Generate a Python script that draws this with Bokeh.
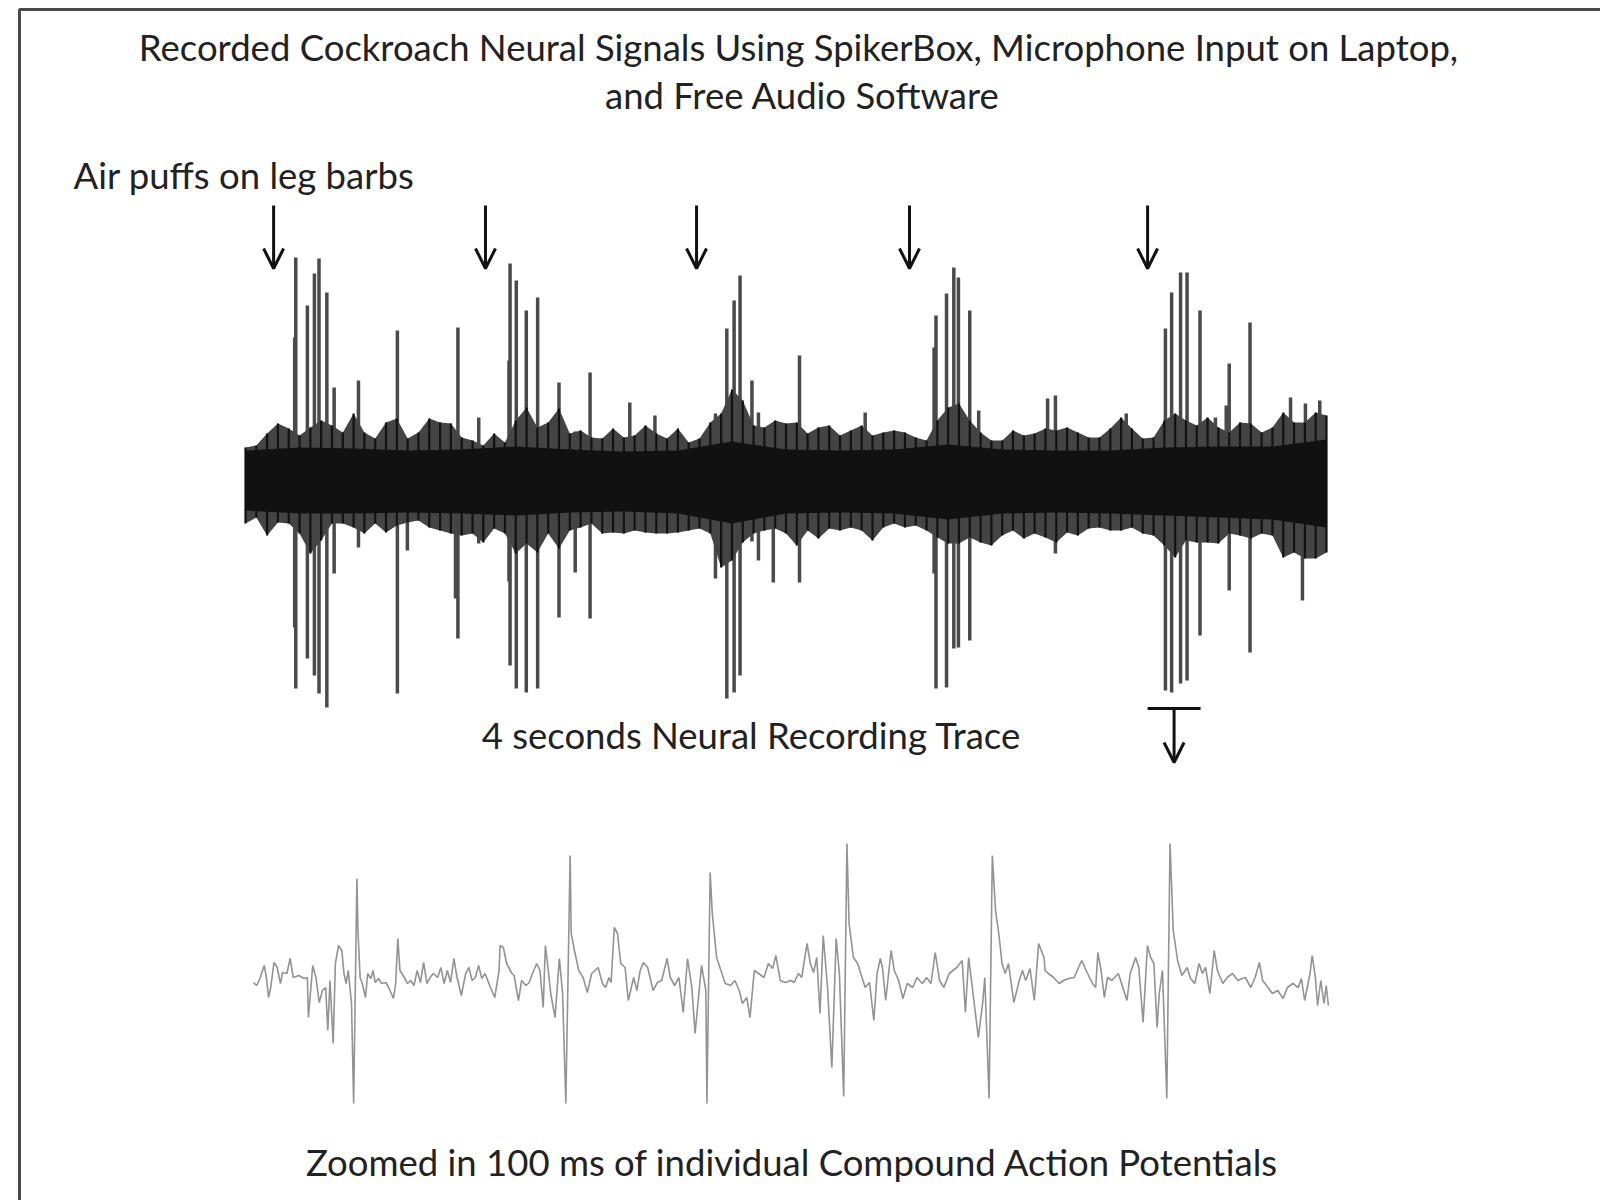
from bokeh.plotting import figure
from bokeh.models import Range1d, ColumnDataSource, Arrow, OpenHead
from bokeh.core.properties import value
from bokeh.embed import file_html
from bokeh.resources import INLINE

# ---------------- texts ----------------
title_lines = ["Recorded Cockroach Neural Signals Using SpikerBox, Microphone Input on Laptop,",
               "and Free Audio Software"]
puff_label = "Air puffs on leg barbs"
trace_label = "4 seconds Neural Recording Trace"
zoom_label = "Zoomed in 100 ms of individual Compound Action Potentials"

# ---------------- 4 s recording (time in ms, amplitude in a.u.) ----------------
puff_times_ms = [104, 888, 1669, 2457, 3338]
zoom_window_ms = [3338, 3534]

spike_t_ms = [186, 182, 229, 255, 272, 301, 328, 418, 562, 599, 786, 777, 863,
              979, 975, 1002, 1039, 1081, 1160, 1220, 1275, 1422, 1515, 1739,
              1781, 1808, 1830, 1874, 1898, 1953, 2050, 2293, 2555, 2548, 2594,
              2621, 2638, 2680, 2713, 2968, 2997, 3259, 3404, 3427, 3460, 3484,
              3532, 3589, 3629, 3640, 3717, 3867, 3911, 3922, 3975]
spike_up = [224, 144, 176, 208, 223, 189, 94, 101, 151, 40, 154, 50, 64,
            218, 121, 201, 171, 184, 99, 50, 109, 79, 66, 68,
            153, 181, 206, 101, 69, 45, 126, 69, 166, 134, 188,
            214, 204, 171, 71, 83, 86, 68, 153, 189, 209, 209,
            171, 64, 76, 118, 159, 84, 50, 78, 81]
spike_down = [-207, -146, -177, -194, -212, -226, -92, -66, -212, -69, -157, -117, -62,
              -184, -100, -207, -211, -207, -136, -91, -137, -45, -45, -97,
              -217, -211, -194, -60, -79, -101, -101, -50, -207, -92, -206,
              -167, -166, -159, -55, -45, -72, -45, -209, -211, -202, -199,
              -154, -55, -50, -109, -171, -60, -119, -55, -60]

env_t_ms = [0, 40, 80, 120, 160, 200, 240, 280, 320, 360, 400, 440, 480, 520, 560,
            600, 640, 680, 720, 760, 800, 840, 880, 920, 960, 1000, 1040, 1080,
            1120, 1160, 1200, 1240, 1280, 1320, 1360, 1400, 1440, 1480, 1520,
            1560, 1600, 1640, 1680, 1720, 1760, 1800, 1840, 1880, 1920, 1960,
            2000, 2040, 2080, 2120, 2160, 2200, 2240, 2280, 2320, 2360, 2400,
            2440, 2480, 2520, 2560, 2600, 2640, 2680, 2720, 2760, 2800, 2840,
            2880, 2920, 2960, 3000, 3040, 3080, 3120, 3160, 3200, 3240, 3280,
            3320, 3360, 3400, 3440, 3480, 3520, 3560, 3600, 3640, 3680, 3720,
            3760, 3800, 3840, 3880, 3920, 3960, 4000]
env_upper = [34, 36, 48, 58, 53, 46, 54, 61, 56, 49, 68, 49, 43, 59, 63, 43, 49, 63,
             59, 58, 44, 41, 36, 48, 39, 61, 74, 54, 59, 73, 48, 51, 44, 43, 53, 44,
             46, 56, 48, 43, 53, 39, 43, 59, 68, 92, 81, 56, 54, 61,
             58, 59, 48, 54, 56, 46, 51, 56, 46, 49, 51, 49, 44, 41, 61, 74, 78, 61,
             49, 41, 41, 51, 46, 48, 53, 51, 54, 49, 44, 44, 53, 64, 53, 43, 44, 61,
             68, 61, 56, 64, 54, 49, 59, 58, 49, 54, 69, 59, 59, 69, 66]
env_lower = [-42, -36, -54, -41, -42, -52, -72, -59, -42, -42, -46, -52, -42, -51,
             -44, -41, -39, -46, -49, -52, -54, -52, -61, -47, -52, -72, -62, -71,
             -52, -67, -49, -46, -42, -52, -51, -52, -49, -51, -52, -52, -51, -49,
             -47, -52, -86, -79, -61, -52, -49, -47,
             -52, -64, -49, -57, -47, -49, -46, -49, -59, -46, -42, -46, -44, -49,
             -56, -62, -62, -56, -61, -64, -54, -49, -57, -52, -56, -61, -51, -54,
             -47, -46, -49, -49, -46, -52, -54, -64, -76, -59, -61, -61, -62, -52,
             -54, -57, -52, -54, -76, -71, -77, -77, -71]

core_t_ms = [0, 200, 400, 600, 800, 1000, 1200, 1400, 1600, 1800, 2000, 2200,
             2400, 2600, 2800, 3000, 3200, 3400, 3600, 3800, 4000]
core_upper = [31, 34, 33, 31, 32, 35, 32, 30, 31, 40, 32, 31, 32, 37, 32, 31, 31,
              34, 35, 35, 42]
core_lower = [-29, -32, -32, -31, -32, -34, -31, -30, -32, -42, -32, -31, -32, -38,
              -32, -31, -32, -34, -36, -38, -46]

# ---------------- 100 ms zoom (time in ms, amplitude in a.u.) ----------------
zoom_trace = [
    (0.0, -4), (0.3, -7), (0.6, 0), (1.0, 13), (1.2, 1), (1.4, -19), (1.6, -9),
    (1.9, 16), (2.2, 11), (2.5, -5), (2.7, 6), (3.1, 5), (3.4, 20), (3.7, 1),
    (4.2, 3), (4.7, 0), (5.0, 1), (5.1, -39), (5.5, 13), (5.8, 1), (6.1, -24),
    (6.4, -12), (6.7, -9), (6.9, -52), (7.1, -2), (7.4, -65), (7.6, 15), (7.9, 33),
    (8.2, 28), (8.4, 5), (8.6, -5), (8.8, 8), (9.1, -25), (9.3, -125), (9.6, 100),
    (9.7, 48), (9.9, 1), (10.1, -5), (10.4, -19), (10.6, 5), (10.9, 0), (11.1, 8),
    (11.3, -4), (11.6, 0), (11.9, -5), (12.3, -4), (12.6, -10), (13.0, -20),
    (13.2, -5), (13.4, 40), (13.6, 8), (14.0, 1), (14.3, -5), (14.6, -2), (14.9, -7),
    (15.2, 8), (15.5, -4), (15.8, 16), (16.1, -5), (16.4, 1), (16.7, 5), (17.1, 1),
    (17.4, 11), (17.7, -5), (18.0, 8), (18.3, -4), (18.6, 20), (18.9, 1), (19.3, -17),
    (19.7, 5), (20.0, 11), (20.3, -2), (20.6, 1), (20.9, 13), (21.2, 0), (21.5, 5),
    (22.0, -9), (22.4, -19), (22.8, 8), (22.9, 33), (23.2, 31), (23.5, 15),
    (23.7, 11), (24.0, 5), (24.2, 3), (24.6, -22), (24.9, -2), (25.3, -7), (25.6, -4),
    (25.9, 5), (26.3, 15), (26.6, 8), (26.9, -29), (27.1, 33), (27.3, 15), (27.6, -15),
    (28.0, -39), (28.4, 20), (28.7, -15), (29.0, -125), (29.4, 123), (29.5, 45),
    (29.8, 28), (30.2, 8), (30.6, 1), (31.0, -14), (31.4, 5), (32.0, 11), (32.4, -5),
    (32.7, -9), (33.0, 1), (33.2, -4), (33.5, 51), (33.8, 45), (34.1, 15), (34.5, 11),
    (34.8, -22), (35.3, 1), (35.6, -12), (35.9, 8), (36.2, 16), (36.6, 11),
    (37.1, -12), (37.5, -4), (37.9, -2), (38.4, 20), (38.7, 1), (39.1, -7), (39.5, 1),
    (39.9, -34), (40.3, 20), (40.7, -9), (41.0, -55), (41.6, 13), (42.0, -12),
    (42.1, -125), (42.4, 106), (42.6, 65), (43.0, 21), (43.4, 8), (43.8, -5),
    (44.3, -7), (44.7, -2), (45.1, -12), (45.4, -25), (45.8, -19), (46.1, -39),
    (46.5, 8), (46.9, 5), (47.4, 1), (47.8, 15), (48.2, 10), (48.5, 23), (48.8, 5),
    (48.9, -2), (49.4, -4), (49.9, -2), (50.2, -4), (50.6, 5), (50.9, 1), (51.4, 35),
    (51.7, 15), (52.0, 6), (52.3, 21), (52.6, -35), (52.9, 43), (53.3, -9),
    (53.7, -89), (54.1, 40), (54.4, 5), (54.8, -118), (55.1, 135), (55.3, 55),
    (55.7, 21), (56.1, 15), (56.5, 1), (56.8, -9), (57.2, -4), (57.6, -42), (57.9, 5),
    (58.2, 20), (58.4, 11), (58.7, -22), (59.2, 28), (59.5, 8), (59.9, -2),
    (60.3, -20), (60.7, -5), (61.2, -9), (61.6, 1), (62.1, -5), (62.5, 1), (62.9, -5),
    (63.3, 26), (63.7, -2), (64.1, -9), (64.6, 5), (65.3, 11), (65.8, 18),
    (66.1, -34), (66.4, 21), (66.7, -5), (67.3, -59), (67.7, -25), (67.9, 1),
    (68.3, -120), (68.6, 123), (68.9, 68), (69.2, 45), (69.5, 15), (69.8, 5),
    (70.1, 15), (70.6, -24), (71.1, -2), (71.4, 8), (71.7, -2), (72.1, 10),
    (72.5, -22), (72.9, 35), (73.4, 21), (73.5, 8), (73.8, 5), (74.3, 1), (74.8, -5),
    (75.2, -2), (75.7, 0), (76.2, 1), (76.6, 11), (76.9, 18), (77.4, 6), (77.9, -5),
    (78.2, -9), (78.4, 26), (78.7, 8), (79.0, -19), (79.3, 1), (79.7, -2), (80.3, 5),
    (80.6, -5), (81.1, -22), (81.4, 5), (81.9, 21), (82.2, 11), (82.6, -44),
    (83.0, 33), (83.3, 21), (83.6, 15), (83.9, -49), (84.1, -15), (84.4, 8),
    (84.8, -120), (85.1, 135), (85.4, 48), (85.8, 18), (86.2, 3), (86.7, 11),
    (87.0, 0), (87.4, -5), (87.8, 15), (88.1, 5), (88.4, 11), (88.8, -15), (89.2, 28),
    (89.5, 8), (90.0, -5), (90.4, 1), (90.9, 5), (91.4, -2), (91.8, 0), (92.1, 1),
    (92.6, -9), (93.0, 1), (93.4, 16), (93.7, -2), (94.2, -9), (94.6, -15),
    (95.1, -12), (95.6, -20), (96.0, -9), (96.5, -5), (97.0, -9), (97.3, 0),
    (97.6, -22), (98.1, 5), (98.3, 23), (98.6, 1), (98.8, -27), (99.1, -2),
    (99.4, -25), (99.6, -7), (99.8, -27),
]
zoom_t_ms = [t for t, _ in zoom_trace]
zoom_amp = [a for _, a in zoom_trace]

# ---------------- layout (page pixels; Bokeh page has no body margin) ----------------
PX0, PX1, PY0, PY1 = 0, 1600, 0, 1200
TOP = dict(x0=245, x1=1326, base=481)         # 4 s trace placement
ZM = dict(x0=253, x1=1330, base=978)          # 100 ms trace placement


def x_range_for(v0, v1, p0, p1):
    s = (v1 - v0) / (p1 - p0)
    return Range1d(v0 + (PX0 - p0) * s, v0 + (PX1 - p0) * s)


def y_range_for(base):
    # 1 amplitude unit = 1 px, positive upwards
    return Range1d(base - PY1, base - PY0)


p = figure(width=PX1 - PX0, height=PY1 - PY0,
           x_range=Range1d(PX0, PX1), y_range=Range1d(PY1, PY0),
           output_backend="svg", toolbar_location=None, min_border=0,
           x_axis_location=None, y_axis_location=None)
p.grid.visible = False
p.outline_line_color = None
p.background_fill_color = "white"
p.border_fill_color = "white"

p.extra_x_ranges = {"t_top": x_range_for(0, 4000, TOP["x0"], TOP["x1"]),
                    "t_zoom": x_range_for(0, 100, ZM["x0"], ZM["x1"])}
p.extra_y_ranges = {"a_top": y_range_for(TOP["base"]),
                    "a_zoom": y_range_for(ZM["base"])}

# frame of the figure
p.line(x=[1600, 19, 19], y=[9, 9, 1200], line_color="#4a4a4a", line_width=3)

# texts
font = value("Lato")
txt = dict(text_baseline="middle", text_font=font, text_font_size="36.5px",
           text_color="#222222")
p.text(x=[798], y=[46], text=[title_lines[0]], text_align="center", **txt)
p.text(x=[802], y=[94], text=[title_lines[1]], text_align="center", **txt)
p.text(x=[73], y=[174], text=[puff_label], text_align="left", **txt)
p.text(x=[751], y=[734], text=[trace_label], text_align="center", **txt)
p.text(x=[792], y=[1161], text=[zoom_label], text_align="center", **txt)

# 4 s trace
top_kw = dict(x_range_name="t_top", y_range_name="a_top")
p.segment(x0=spike_t_ms, y0=spike_down, x1=spike_t_ms, y1=spike_up,
          line_color="#4a4a4a", line_width=3.5, **top_kw)
p.varea(x=env_t_ms, y1=env_lower, y2=env_upper, fill_color="#444444", **top_kw)
p.segment(x0=env_t_ms, y0=env_lower, x1=env_t_ms, y1=env_upper,
          line_color="#121212", line_width=2.2, **top_kw)
p.varea(x=core_t_ms, y1=core_lower, y2=core_upper, fill_color="#111111", **top_kw)

# air-puff arrows
n = len(puff_times_ms)
puff_src = ColumnDataSource(dict(x=puff_times_ms, y0=[276] * n, y1=[213] * n))
p.add_layout(Arrow(end=OpenHead(size=20, line_width=3, line_color="#111111"),
                   x_start="x", y_start="y0", x_end="x", y_end="y1", source=puff_src,
                   line_width=3, line_color="#111111", **top_kw))

# zoom window marker
p.line(x=zoom_window_ms, y=[-227, -227], line_color="#111111", line_width=3, **top_kw)
mid = (zoom_window_ms[0] + zoom_window_ms[1]) / 2
p.add_layout(Arrow(end=OpenHead(size=20, line_width=3, line_color="#111111"),
                   x_start=mid, y_start=-227, x_end=mid, y_end=-281,
                   line_width=3, line_color="#111111", **top_kw))

# 100 ms trace
p.line(x=zoom_t_ms, y=zoom_amp, line_color="#939393", line_width=1.6,
       x_range_name="t_zoom", y_range_name="a_zoom")

open("out.html", "w").write(file_html(p, INLINE))
